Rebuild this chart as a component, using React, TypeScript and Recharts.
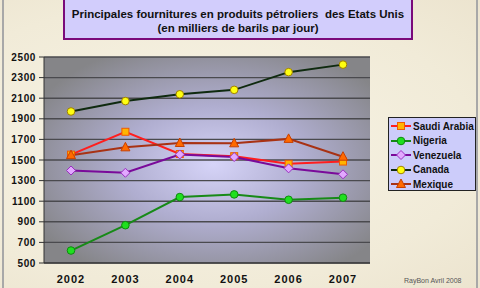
import React from "react";
import { LineChart, Line, XAxis, YAxis, CartesianGrid, Legend } from "recharts";

const years = ["2002", "2003", "2004", "2005", "2006", "2007"];
const saudiArabia = [1552, 1774, 1558, 1537, 1463, 1485];
const nigeria = [621, 867, 1140, 1166, 1114, 1134];
const venezuela = [1398, 1376, 1554, 1529, 1419, 1361];
const canada = [1971, 2072, 2138, 2181, 2353, 2426];
const mexique = [1547, 1623, 1665, 1662, 1705, 1532];
const yTicks = [500, 700, 900, 1100, 1300, 1500, 1700, 1900, 2100, 2300, 2500];

type Shape = "square" | "circle" | "diamond" | "triangle";

const series: { key: string; name: string; values: number[]; color: string; shape: Shape; fill: string; edge: string }[] = [
  { key: "saudi", name: "Saudi Arabia", values: saudiArabia, color: "#ff1e1e", shape: "square", fill: "#ffb400", edge: "#f05a00" },
  { key: "nigeria", name: "Nigeria", values: nigeria, color: "#178a17", shape: "circle", fill: "#1fe01f", edge: "#0f8a0f" },
  { key: "venezuela", name: "Venezuela", values: venezuela, color: "#7a0a9a", shape: "diamond", fill: "#e2a8ff", edge: "#9a30c0" },
  { key: "canada", name: "Canada", values: canada, color: "#0f2a0f", shape: "circle", fill: "#ffff10", edge: "#a08000" },
  { key: "mexique", name: "Mexique", values: mexique, color: "#a83214", shape: "triangle", fill: "#ff6a00", edge: "#c84000" },
];

const data = years.map((year, i) => {
  const row: Record<string, string | number> = { year };
  series.forEach((s) => (row[s.key] = s.values[i]));
  return row;
});

const font = "Arial, 'Liberation Sans', sans-serif";

function Marker({ cx, cy, shape, fill, edge }: { cx: number; cy: number; shape: Shape; fill: string; edge: string }) {
  if (shape === "square")
    return <rect x={cx - 3.5} y={cy - 3.5} width={7} height={7} fill={fill} stroke={edge} strokeWidth={1} />;
  if (shape === "diamond")
    return <path d={`M${cx},${cy - 4.5}L${cx + 4.5},${cy}L${cx},${cy + 4.5}L${cx - 4.5},${cy}Z`} fill={fill} stroke={edge} strokeWidth={1} />;
  if (shape === "triangle")
    return <path d={`M${cx},${cy - 5}L${cx + 4.5},${cy + 3.5}L${cx - 4.5},${cy + 3.5}Z`} fill={fill} stroke={edge} strokeWidth={1} />;
  return <circle cx={cx} cy={cy} r={3.8} fill={fill} stroke={edge} strokeWidth={1} />;
}

function LegendBox() {
  return (
    <div
      style={{
        width: 86,
        height: 71,
        background: "#ccccfa",
        border: "1px solid #222",
        fontFamily: font,
        fontSize: 10,
        fontWeight: "bold",
        letterSpacing: 0,
        color: "#111",
        paddingTop: 1,
        whiteSpace: "nowrap",
      }}
    >
      {series.map((s) => (
        <div key={s.key} style={{ height: 14.5, display: "flex", alignItems: "center" }}>
          <svg width={20} height={12} style={{ marginLeft: 2, marginRight: 2, flexShrink: 0 }}>
            <line x1={0} y1={6} x2={20} y2={6} stroke={s.color} strokeWidth={2} />
            <Marker cx={10} cy={6} shape={s.shape} fill={s.fill} edge={s.edge} />
          </svg>
          <span>{s.name}</span>
        </div>
      ))}
    </div>
  );
}

export default function App() {
  return (
    <div
      style={{
        position: "absolute",
        left: 0,
        top: 0,
        width: 480,
        height: 288,
        overflow: "hidden",
        background: "radial-gradient(ellipse at 40% 50%, #f8f4e6 0%, #f1ebd8 70%, #ece4cf 100%)",
      }}
    >
      <div style={{ position: "absolute", left: 2, top: -2, width: 472, height: 292, border: "2px solid #a8a8a8" }} />
      <div
        style={{
          position: "absolute",
          left: 63,
          top: -2,
          width: 350,
          height: 42,
          background: "#d2cdfc",
          border: "2px solid #7a0a7a",
          fontFamily: font,
          fontSize: 11.5,
          fontWeight: "bold",
          textAlign: "center",
          lineHeight: "13.5px",
          paddingTop: 8,
          boxSizing: "border-box",
          color: "#111",
        }}
      >
        <div>Principales fournitures en produits pétroliers&nbsp; des Etats Unis</div>
        <div>(en milliers de barils par jour)</div>
      </div>
      <LineChart width={480} height={288} data={data} margin={{ top: 57, right: 110, left: 0, bottom: 0 }}>
        <defs>
          <radialGradient id="plotBg" cx="52%" cy="52%" r="62%">
            <stop offset="0%" stopColor="#d6d4f8" />
            <stop offset="45%" stopColor="#b0aed0" />
            <stop offset="100%" stopColor="#858588" />
          </radialGradient>
        </defs>
        <CartesianGrid vertical={false} fill="url(#plotBg)" fillOpacity={1} stroke="#4a4a4e" strokeWidth={1.4} />
        <XAxis
          dataKey="year"
          height={25}
          padding={{ left: 27, right: 27 }}
          tickLine={false}
          axisLine={{ stroke: "#333", strokeWidth: 1 }}
          tick={{ fontSize: 11, fontWeight: "bold", fill: "#111", fontFamily: font, letterSpacing: 1 }}
          tickMargin={6}
          interval={0}
        />
        <YAxis
          width={44}
          domain={[500, 2500]}
          ticks={yTicks}
          interval={0}
          tickSize={5}
          tickMargin={3}
          tickLine={{ stroke: "#333" }}
          axisLine={{ stroke: "#333", strokeWidth: 1 }}
          tick={{ fontSize: 10, fontWeight: "bold", fill: "#111", fontFamily: font, letterSpacing: 0.6 }}
        />
        <Legend
          layout="vertical"
          align="center"
          verticalAlign="middle"
          wrapperStyle={{ left: 388, top: 117, width: 88 }}
          content={() => <LegendBox />}
        />
        {series.map((s) => (
          <Line
            key={s.key}
            dataKey={s.key}
            name={s.name}
            stroke={s.color}
            strokeWidth={2}
            isAnimationActive={false}
            dot={(p: any) => (
              <Marker key={`${s.key}-${p.index}`} cx={p.cx} cy={p.cy} shape={s.shape} fill={s.fill} edge={s.edge} />
            )}
            activeDot={false}
          />
        ))}
      </LineChart>
      <div style={{ position: "absolute", left: 404, top: 277, fontFamily: font, fontSize: 7, color: "#555" }}>
        RayBon Avril 2008
      </div>
    </div>
  );
}
